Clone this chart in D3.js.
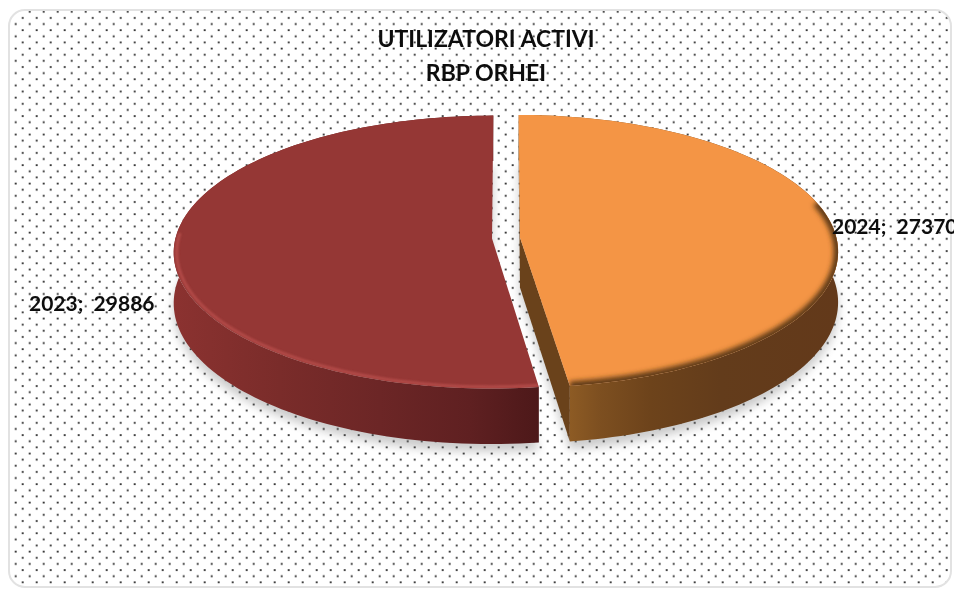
<!DOCTYPE html>
<html><head><meta charset="utf-8">
<script src="https://cdn.jsdelivr.net/npm/d3@7/dist/d3.min.js"></script>
<style>html,body{margin:0;padding:0;background:#fff;overflow:hidden}svg{display:block}</style>
</head><body><svg id="c" width="954" height="589"></svg>
<script>
const titleLines = ["UTILIZATORI ACTIVI", "RBP ORHEI"];
const years = ["2024", "2023"];
const users = [27370, 29886];
const topColors = ["#f49545", "#953735"];

const W = 954, H = 589;
const cx = 506, cy = 238, R = 316.5, ry = 135, persp = 0.1, depth = 50, explode = 14;
const svg = d3.select("#c");
const defs = svg.append("defs");

const pat = defs.append("pattern").attr("id","dots").attr("patternUnits","userSpaceOnUse")
  .attr("x",1.7).attr("y",2.7).attr("width",14).attr("height",12.27);
pat.append("circle").attr("cx",7).attr("cy",3).attr("r",1).attr("fill","#222");
pat.append("circle").attr("cx",14).attr("cy",9.13).attr("r",1).attr("fill","#222");
pat.append("circle").attr("cx",0).attr("cy",9.13).attr("r",1).attr("fill","#222");

const blur = (id,s)=>defs.append("filter").attr("id",id)
  .attr("x","-20%").attr("y","-20%").attr("width","140%").attr("height","140%")
  .append("feGaussianBlur").attr("stdDeviation",s);
blur("b8",5); blur("b2",2.4); blur("b1",1.1); blur("t",0.45);

const grad = (id,stops)=>{
  const g = defs.append("linearGradient").attr("id",id).attr("gradientUnits","userSpaceOnUse")
    .attr("x1",0).attr("x2",W).attr("y1",0).attr("y2",0);
  stops.forEach(([x,c])=>g.append("stop").attr("offset",x/W).attr("stop-color",c));
};
grad("wall2024",[[570,"#8d5b24"],[600,"#7d4f20"],[650,"#6d431b"],[720,"#633c1b"],[840,"#63391a"]]);
grad("wall2023",[[174,"#8b3230"],[280,"#7a2c2a"],[380,"#6c2626"],[470,"#5f2021"],[542,"#4c1819"]]);
const wallFill = ["url(#wall2024)","url(#wall2023)"];
const rim = [{c:"#5f3a18",w:9,f:"url(#b2)",inset:0,o:1},{c:"#b9504d",w:3,f:"url(#b1)",inset:3,o:0.85}];

// frame
svg.append("rect").attr("x",9).attr("y",10).attr("width",942).attr("height",577).attr("rx",16)
  .attr("fill","#fff").attr("stroke","#e2e2e2").attr("stroke-width",2);
svg.append("rect").attr("x",10).attr("y",11).attr("width",940).attr("height",575).attr("rx",15)
  .attr("fill","url(#dots)");

const arcs = d3.pie().sort(null).startAngle(0).endAngle(2*Math.PI)(users);

function project(sl, a, r=1, dz=0){
  const mid = (sl.startAngle+sl.endAngle)/2;
  const X = r*Math.sin(a) + explode/R*Math.sin(mid);
  const V = -r*Math.cos(a) - explode/R*Math.cos(mid);
  const p = 1/(1-persp*V);
  return [cx + R*X*p, cy + ry*V*p + dz*p];
}
const line = d3.line();
const samples = sl => d3.range(0,121).map(i=>sl.startAngle+(sl.endAngle-sl.startAngle)*i/120);
const apex = (sl,dz=0)=>project(sl,0,0,dz);
const outer = (sl,r=1,dz=0)=>samples(sl).map(a=>project(sl,a,r,dz));

const gShadow = svg.append("g").attr("filter","url(#b8)").attr("opacity",0.3);
arcs.forEach(sl=>{
  gShadow.append("path").attr("fill","#555")
    .attr("d",line(outer(sl,1,depth+7).concat([apex(sl,depth+7)]))+"Z");
});

arcs.forEach((sl,i)=>{
  const g = svg.append("g");
  // cut faces
  [sl.startAngle, sl.endAngle].forEach(a=>{
    g.append("path").attr("fill","#6a421b").attr("fill-opacity", i===0?1:0)
      .attr("d",line([apex(sl),project(sl,a),project(sl,a,1,depth),apex(sl,depth)])+"Z");
  });
  // outer wall
  g.append("path").attr("fill",wallFill[i])
    .attr("d",line(outer(sl).concat(outer(sl,1,depth).reverse()))+"Z");
});
arcs.forEach((sl,i)=>{
  const g = svg.append("g");
  const d = line(outer(sl).concat([apex(sl)]))+"Z";
  defs.append("clipPath").attr("id","top"+i).append("path").attr("d",d);
  g.append("path").attr("d",d).attr("fill",topColors[i]);
  const rg = g.append("g").attr("clip-path",`url(#top${i})`);
  const pts = outer(sl,1-rim[i].inset/R);
  // keep the rim on the lower / outer part of the disc
  const front = samples(sl).map((a,k)=>({a,p:pts[k]})).filter(o=>Math.cos(o.a)<(i===0?0.28:0.05)).map(o=>o.p);
  rg.append("path").attr("d",line(front)).attr("fill","none").attr("opacity",rim[i].o)
    .attr("stroke",rim[i].c).attr("stroke-width",rim[i].w).attr("filter",rim[i].f);
});

// text
const tg = svg.append("g").attr("font-family","Lato, 'Open Sans', sans-serif").attr("font-weight",700)
  .attr("fill","#111").attr("filter","url(#t)");
tg.selectAll("text.t").data(titleLines).join("text").attr("class","t")
  .attr("x",486).attr("y",(d,i)=>47+i*33.5).attr("text-anchor","middle").attr("font-size",23).text(d=>d);
const labelPos = [{x:832,y:234},{x:29,y:311}];
tg.selectAll("text.l").data(arcs).join("text").attr("class","l")
  .attr("x",(d,i)=>labelPos[i].x).attr("y",(d,i)=>labelPos[i].y).attr("font-size",21)
  .style("white-space","pre")
  .text((d,i)=>`${years[i]};  ${users[i]}`);
</script></body></html>
